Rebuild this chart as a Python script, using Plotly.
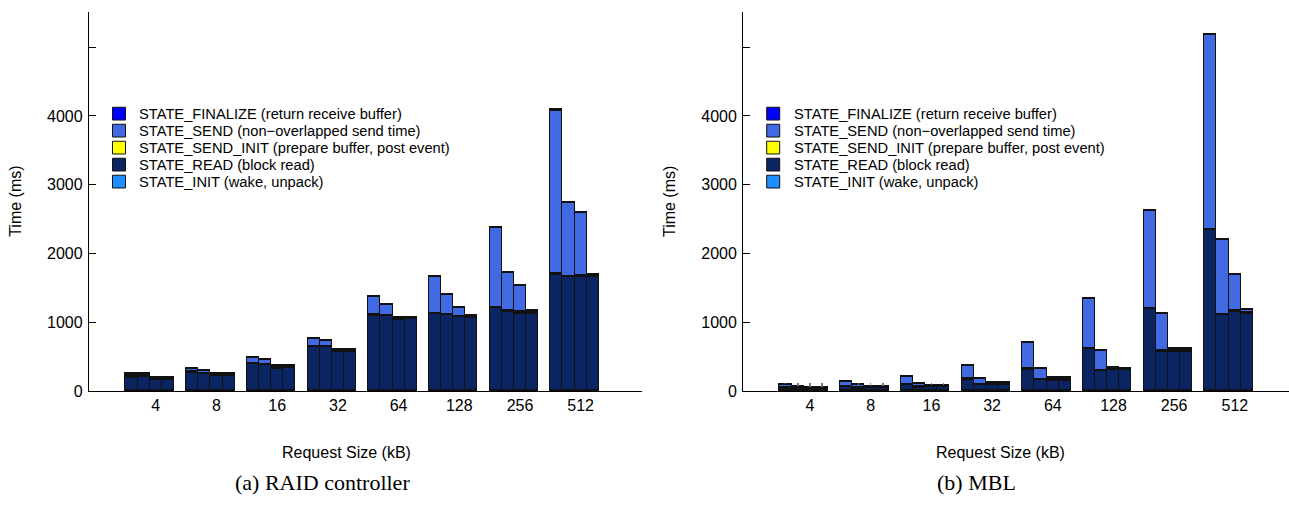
import plotly.graph_objects as go

W, H = 1289, 506

sizes = ["4", "8", "16", "32", "64", "128", "256", "512"]

# Stack order, bottom to top
states = [
    "STATE_INIT (wake, unpack)",
    "STATE_READ (block read)",
    "STATE_SEND_INIT (prepare buffer, post event)",
    "STATE_SEND (non\u2212overlapped send time)",
    "STATE_FINALIZE (return receive buffer)",
]
state_colors = ["#1e8fff", "#0b2563", "#ffff00", "#4169e1", "#0000ff"]

# RAID controller: per request size, four runs (ms)
raid_init = [[3, 3, 3, 3], [3, 3, 3, 3], [3, 3, 3, 3], [3, 3, 3, 3],
             [3, 3, 3, 3], [3, 3, 3, 3], [3, 3, 3, 3], [3, 3, 3, 3]]
raid_read = [[193, 207, 162, 162], [266, 245, 220, 220], [389, 380, 325, 330],
             [634, 642, 560, 562], [1095, 1085, 1038, 1042], [1118, 1105, 1071, 1066],
             [1203, 1155, 1125, 1120], [1688, 1650, 1650, 1655]]
raid_send_init = [[3, 3, 18, 18], [3, 3, 23, 23], [4, 4, 30, 28], [4, 4, 25, 30],
                  [5, 5, 14, 18], [5, 5, 8, 16], [6, 6, 16, 22], [6, 6, 16, 22]]
raid_send = [[42, 28, 5, 5], [52, 43, 5, 5], [83, 63, 7, 8], [122, 84, 5, 8],
             [262, 157, 5, 6], [539, 290, 121, 8], [1166, 553, 383, 15], [2384, 1082, 915, 13]]
raid_finalize = [[2, 2, 2, 2], [2, 2, 2, 2], [2, 2, 2, 2], [2, 2, 2, 2],
                 [2, 2, 2, 2], [2, 2, 2, 2], [2, 2, 2, 2], [2, 2, 2, 2]]

# MBL: per request size, four runs (ms)
mbl_init = [[2, 2, 2, 2], [2, 2, 2, 2], [2, 2, 2, 2], [2, 2, 2, 2],
            [2, 2, 2, 2], [2, 2, 2, 2], [2, 2, 2, 2], [2, 2, 2, 2]]
mbl_read = [[35, 27, 22, 22], [54, 36, 40, 40], [87, 50, 55, 55], [166, 87, 92, 92],
            [311, 159, 150, 150], [604, 294, 300, 300], [1187, 573, 566, 566],
            [2335, 1107, 1145, 1120]]
mbl_send_init = [[2, 2, 4, 4], [2, 2, 4, 4], [2, 2, 5, 5], [3, 3, 6, 6],
                 [3, 3, 22, 20], [3, 3, 15, 15], [4, 4, 15, 15], [5, 5, 16, 16]]
mbl_send = [[55, 35, 23, 23], [74, 45, 20, 20], [118, 55, 18, 18], [195, 90, 14, 14],
            [378, 154, 13, 13], [728, 288, 17, 11], [1430, 549, 35, 26], [2833, 1080, 531, 42]]
mbl_finalize = [[1, 1, 1, 1], [1, 1, 1, 1], [1, 1, 1, 1], [1, 1, 1, 1],
                [1, 1, 1, 1], [1, 1, 1, 1], [1, 1, 1, 1], [1, 1, 1, 1]]
# upper whiskers above the stacked totals (ms)
mbl_whisker = [[15, 43, 58, 58], [0, 24, 43, 43], [0, 0, 29, 29], [0, 0, 0, 0],
               [0, 0, 0, 0], [0, 0, 0, 0], [0, 0, 0, 0], [0, 0, 0, 0]]

raid = [raid_init, raid_read, raid_send_init, raid_send, raid_finalize]
mbl = [mbl_init, mbl_read, mbl_send_init, mbl_send, mbl_finalize]

BAR_W = 0.2
FONT = "Liberation Sans"


def flat(groups):
    return [v for g in groups for v in g]


def positions(groups):
    return [gi + 1 + (bi - 1.5) * BAR_W for gi, g in enumerate(groups) for bi in range(len(g))]


fig = go.Figure()

for series, xa, ya, whisk in [(raid, "x", "y", None), (mbl, "x2", "y2", mbl_whisker)]:
    for k, (name, color, data) in enumerate(zip(states, state_colors, series)):
        err = None
        if whisk is not None and k == len(states) - 1:
            err = dict(type="data", symmetric=False, array=flat(whisk),
                       arrayminus=[0] * len(flat(whisk)), color="#777777",
                       thickness=1.5, width=0)
        fig.add_trace(go.Bar(
            x=positions(data), y=flat(data), width=BAR_W, name=name,
            marker=dict(color=color, line=dict(color="#111111", width=1.3)),
            error_y=err, xaxis=xa, yaxis=ya, showlegend=False,
        ))


def px_x(p):
    return p / W


def px_y(p):
    return 1 - p / H


y_dom = [px_y(398), px_y(12)]
y_range = [0, 386 / 0.07]
yticks = [0, 1000, 2000, 3000, 4000, 5000]
yticktext = ["0", "1000", "2000", "3000", "4000", ""]
tickvals = [i + 1 + 0.1 for i in range(len(sizes))]

axis_y = dict(range=y_range, domain=y_dom, showgrid=False, zeroline=False,
              showline=True, linecolor="black", linewidth=1.3, ticks="inside",
              ticklen=7, tickcolor="black", tickwidth=1.2, tickvals=yticks,
              ticktext=yticktext, tickfont=dict(family=FONT, size=16, color="black"),
              ticklabelstandoff=2)
axis_x = dict(showgrid=False, zeroline=False, showline=True, linecolor="black",
              linewidth=1.3, ticks="", tickvals=tickvals, ticktext=sizes,
              tickfont=dict(family=FONT, size=16, color="black"))

fig.update_layout(
    width=W, height=H, autosize=False, margin=dict(l=0, r=0, t=0, b=0),
    paper_bgcolor="white", plot_bgcolor="white",
    barmode="stack", bargap=0,
    xaxis=dict(axis_x, domain=[px_x(89), px_x(641.5)], range=[0, 552.5 / 60.7], anchor="y"),
    yaxis=dict(axis_y, anchor="x"),
    xaxis2=dict(axis_x, domain=[px_x(743.2), 1.0], range=[0, (W - 743.2) / 60.7], anchor="y2"),
    yaxis2=dict(axis_y, anchor="x2"),
)

# Legends, axis titles and captions for both panels
annotations = []
shapes = []
for off, caption in [(0, "(a) RAID controller"), (654.2, "(b) MBL")]:
    legend_rows = list(zip(states, state_colors))[::-1]
    for r, (name, color) in enumerate(legend_rows):
        cy = 115.7 + r * 17.3
        shapes.append(dict(type="rect", xref="paper", yref="paper",
                           x0=px_x(112.5 + off), x1=px_x(125.5 + off),
                           y0=px_y(cy + 6.5), y1=px_y(cy - 6.5),
                           fillcolor=color, line=dict(color="#111111", width=1)))
        annotations.append(dict(text=name, x=px_x(137.3 + off), y=px_y(cy),
                                xref="paper", yref="paper", xanchor="left",
                                yanchor="middle", showarrow=False,
                                font=dict(family=FONT, size=14.7, color="black")))
    annotations.append(dict(text="Time (ms)", textangle=-90, x=px_x(15.5 + off),
                            y=px_y(205), xref="paper", yref="paper",
                            xanchor="center", yanchor="middle", showarrow=False,
                            font=dict(family=FONT, size=16, color="black")))
    annotations.append(dict(text="Request Size (kB)", x=px_x(346 + off), y=px_y(461),
                            xref="paper", yref="paper", xanchor="center",
                            yanchor="middle", showarrow=False,
                            font=dict(family=FONT, size=16, color="black")))
    annotations.append(dict(text=caption, x=px_x(322 + off), y=px_y(491),
                            xref="paper", yref="paper",
                            xanchor="center", yanchor="middle", showarrow=False,
                            font=dict(family="Liberation Serif", size=22, color="black")))

fig.update_layout(annotations=annotations, shapes=shapes)

fig.write_html("out.html", config={"responsive": False},
               default_width="1289px", default_height="506px")
